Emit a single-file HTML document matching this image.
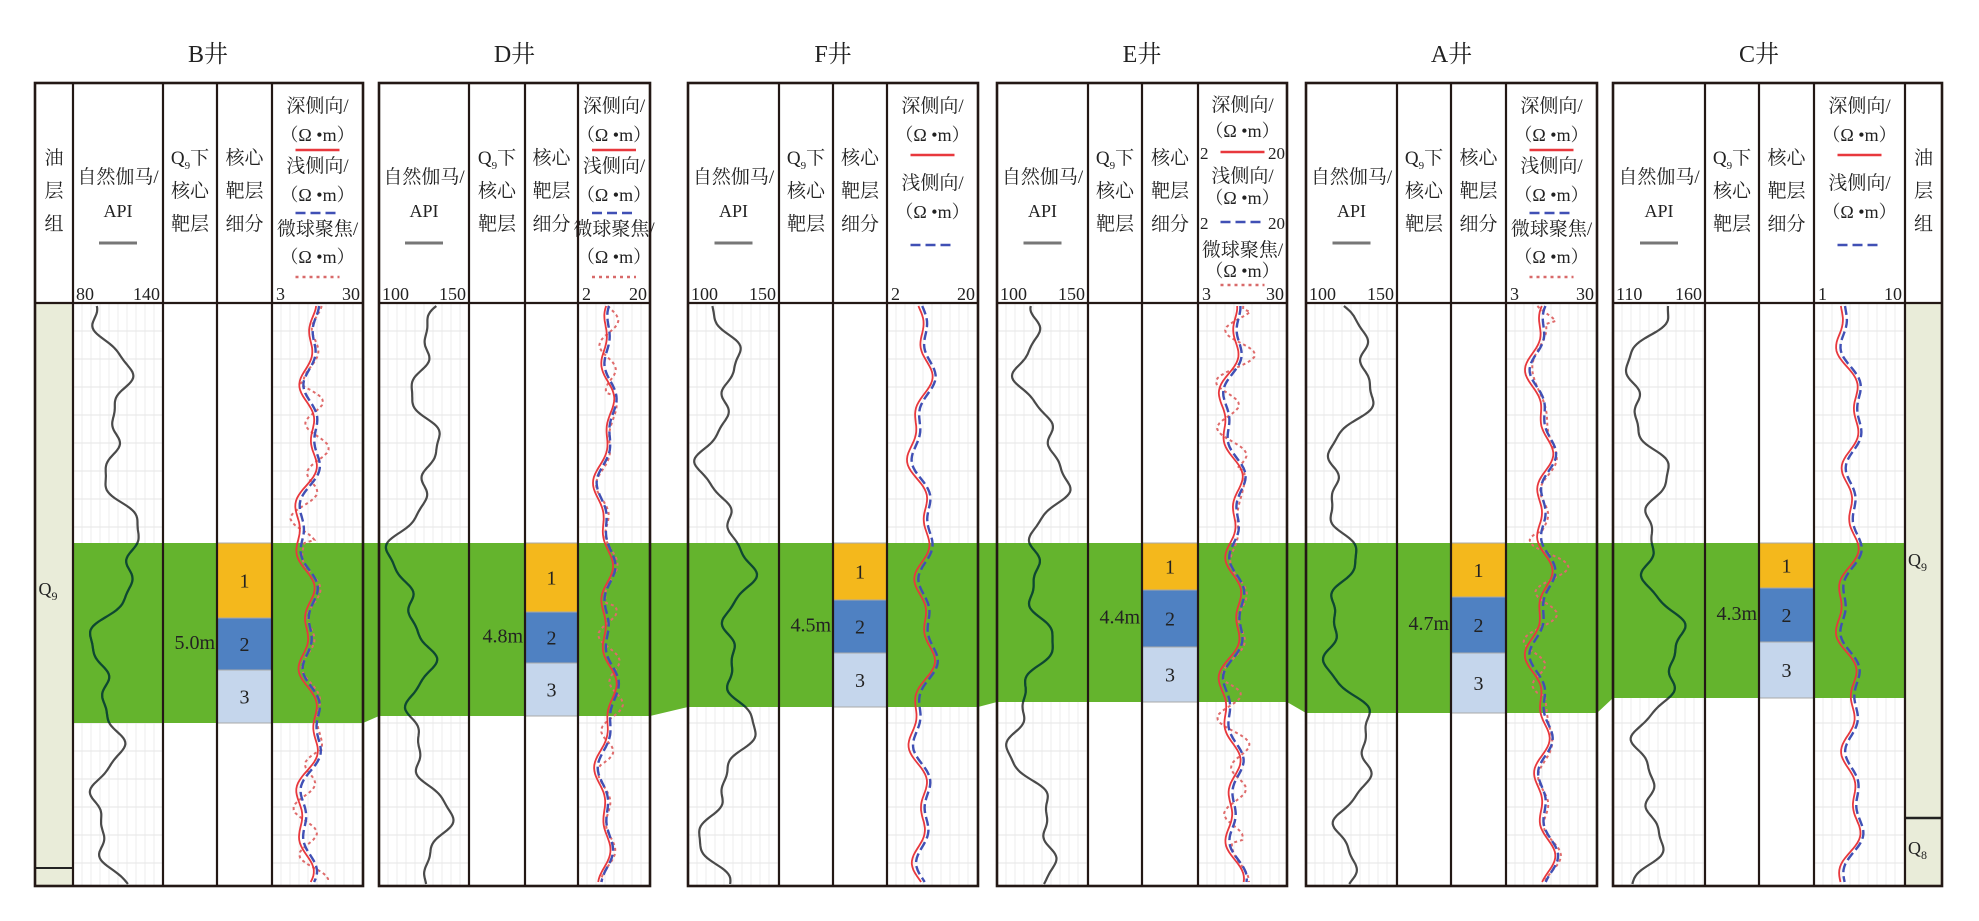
<!DOCTYPE html>
<html><head><meta charset="utf-8"><style>
html,body{margin:0;padding:0;background:#fff;}
svg{display:block;}
text{font-family:"Liberation Serif","Noto Serif CJK SC",serif;fill:#222;}
</style></head><body>
<svg id="s" width="1979" height="921" xmlns="http://www.w3.org/2000/svg"></svg>
<script>
(function(){
const T=83,D=303,B=886,BT=543;
const P=[
{n:'B井',c:[35,73,163,217,272,363],oil:'L',gr:'80|140',rs:'3|30',k:3,bb:723,box:[543,618,670,723],th:'5.0m'},
{n:'D井',c:[379,469,525,578,650],gr:'100|150',rs:'2|20',k:3,bb:716,box:[543,612,663,716],th:'4.8m'},
{n:'F井',c:[688,779,833,887,978],gr:'100|150',rs:'2|20',k:2,bb:707,box:[543,600,653,707],th:'4.5m'},
{n:'E井',c:[997,1088,1142,1198,1287],gr:'100|150',rs:'3|30',k:'E',bb:702,box:[543,590,647,702],th:'4.4m'},
{n:'A井',c:[1306,1397,1451,1506,1597],gr:'100|150',rs:'3|30',k:3,bb:713,box:[543,597,653,713],th:'4.7m'},
{n:'C井',c:[1613,1705,1759,1814,1905,1942],oil:'R',gr:'110|160',rs:'1|10',k:2,bb:698,box:[543,588,642,698],th:'4.3m'}
];
let h='';
function t(x,y,s,sz,anc){return '<text x="'+x+'" y="'+y+'" font-size="'+(sz||18)+'" text-anchor="'+(anc||'middle')+'">'+s+'</text>';}
function nz(s,y){return Math.sin(y*0.035+s)*0.5+Math.sin(y*0.083+s*2.3)*0.28+Math.sin(y*0.014+s*0.7)*0.4+Math.sin(y*0.19+s*5.1)*0.08;}
let bot=[];
P.forEach(function(p,i){const g=p.oil=='L'?p.c[1]:p.c[0];const r=p.oil=='R'?p.c[4]:p.c[p.c.length-1];
 bot.push([g,p.bb],[r,p.bb]);});
const poly='73,'+BT+' 1905,'+BT+' '+bot.slice().reverse().map(function(a){return a.join(',');}).join(' ');
h+='<defs><clipPath id="band"><polygon points="'+poly+'"/></clipPath></defs>';
P.forEach(function(p,i){
 const gi=p.oil=='L'?1:0; const g0=p.c[gi],g1=p.c[gi+1]; const r0=p.c[gi+3],r1=p.c[gi+4];
 [[g0,g1],[r0,r1]].forEach(function(ab){const a=ab[0],b=ab[1];
  for(let x=a+9;x<b;x+=9)h+='<line x1="'+x+'" y1="'+D+'" x2="'+x+'" y2="'+B+'" stroke="#ececec" stroke-width="1"/>';
  for(let y=D+28;y<B;y+=28)h+='<line x1="'+a+'" y1="'+y+'" x2="'+b+'" y2="'+y+'" stroke="#e6e6e6" stroke-width="1"/>';
 });
});
h+='<polygon points="'+poly+'" fill="#64b42d"/>';
P.forEach(function(p,i){
 const c=p.c, gi=p.oil=='L'?1:0;
 const cx=(c[0]+c[c.length-1])/2;
 h+=t(p.oil=='L'?(c[1]+c[5])/2-10:p.oil=='R'?(c[0]+c[4])/2:cx,62,p.n,24);
 if(p.oil=='L'){h+='<rect x="'+c[0]+'" y="'+D+'" width="'+(c[1]-c[0])+'" height="'+(B-D)+'" fill="#e9ecd9"/>';
  h+='<line x1="'+c[0]+'" y1="868" x2="'+c[1]+'" y2="868" stroke="#222" stroke-width="2"/>';
  h+='<text x="'+((c[0]+c[1])/2-6)+'" y="595" font-size="18" text-anchor="middle">Q<tspan font-size="12" dy="5">9</tspan></text>';
  [['油',164],['层',197],['组',230]].forEach(function(a){h+=t((c[0]+c[1])/2,a[1],a[0],19);});}
 if(p.oil=='R'){const a=c[4],b=c[5];h+='<rect x="'+a+'" y="'+D+'" width="'+(b-a)+'" height="'+(B-D)+'" fill="#e9ecd9"/>';
  h+='<line x1="'+a+'" y1="818" x2="'+b+'" y2="818" stroke="#222" stroke-width="2.5"/>';
  h+='<text x="'+((a+b)/2-6)+'" y="566" font-size="18" text-anchor="middle">Q<tspan font-size="12" dy="5">9</tspan></text>';
  h+='<text x="'+((a+b)/2-6)+'" y="854" font-size="18" text-anchor="middle">Q<tspan font-size="12" dy="5">8</tspan></text>';
  [['油',164],['层',197],['组',230]].forEach(function(q){h+=t((a+b)/2,q[1],q[0],19);});}
 const g0=c[gi],g1=c[gi+1],q0=c[gi+1],q1=c[gi+2],k0=c[gi+2],k1=c[gi+3],r0=c[gi+3],r1=c[gi+4];
 const gm=(g0+g1)/2;
 h+=t(gm,183,'自然伽马/',19)+t(gm,217,'API',18);
 h+='<line x1="'+(gm-19)+'" y1="243" x2="'+(gm+19)+'" y2="243" stroke="#777" stroke-width="3"/>';
 const gs=p.gr.split('|');h+=t(g0+3,300,gs[0],18,'start')+t(g1-3,300,gs[1],18,'end');
 const qm=(q0+q1)/2;
 h+='<text x="'+qm+'" y="164" font-size="19" text-anchor="middle">Q<tspan font-size="11" dy="5">9</tspan><tspan dy="-5">下</tspan></text>';
 h+=t(qm,197,'核心',19)+t(qm,230,'靶层',19);
 const km=(k0+k1)/2;h+=t(km,164,'核心',19)+t(km,197,'靶层',19)+t(km,230,'细分',19);
 const rm=(r0+r1)/2, rs=p.rs.split('|');
 const red=function(y){return '<line x1="'+(rm-22)+'" y1="'+y+'" x2="'+(rm+22)+'" y2="'+y+'" stroke="#e8383d" stroke-width="2.5"/>';};
 const blu=function(y){return '<line x1="'+(rm-22)+'" y1="'+y+'" x2="'+(rm+22)+'" y2="'+y+'" stroke="#4050b5" stroke-width="2.5" stroke-dasharray="10,5"/>';};
 const dot=function(y){return '<line x1="'+(rm-22)+'" y1="'+y+'" x2="'+(rm+22)+'" y2="'+y+'" stroke="#d86a6a" stroke-width="2.5" stroke-dasharray="3,4"/>';};
 const om='（Ω •m）';
 if(p.k==3){h+=t(rm,112,'深侧向/',19)+t(rm,141,om,18)+red(150)+t(rm,172,'浅侧向/',19)+t(rm,201,om,18)+blu(213)+t(rm,235,'微球聚焦/',19)+t(rm,263,om,18)+dot(277);}
 else if(p.k==2){h+=t(rm,112,'深侧向/',19)+t(rm,141,om,18)+red(155)+t(rm,189,'浅侧向/',19)+t(rm,218,om,18)+blu(245);}
 else{h+=t(rm,111,'深侧向/',19)+t(rm,137,om,18)+red(152)+t(r0+2,159,'2',17,'start')+t(r1-2,159,'20',17,'end')
  +t(rm,182,'浅侧向/',19)+t(rm,204,om,18)+blu(222)+t(r0+2,229,'2',17,'start')+t(r1-2,229,'20',17,'end')
  +t(rm,256,'微球聚焦/',19)+t(rm,277,om,18)+dot(285);}
 h+=t(r0+4,300,rs[0],18,'start')+t(r1-3,300,rs[1],18,'end');
 const bx=p.box, cols=['#f4b81c','#4f81c2','#c5d6ec'];
 for(let j=0;j<3;j++){h+='<rect x="'+k0+'" y="'+bx[j]+'" width="'+(k1-k0)+'" height="'+(bx[j+1]-bx[j])+'" fill="'+cols[j]+'" stroke="#a9a9a9" stroke-width="1"/>';
  h+=t(km,(bx[j]+bx[j+1])/2+7,String(j+1),20);}
 h+=t(q1-2,(bx[1]+bx[2])/2+5,p.th,20,'end');
 let gp='';for(let y=D+3;y<=B-2;y+=2){const x=g0+(g1-g0)*(0.45+0.32*nz(i*3.1+1,y));gp+=(gp?'L':'M')+x.toFixed(1)+','+y;}
 h+='<path d="'+gp+'" fill="none" stroke="#4a4a4a" stroke-width="2.2"/>';
 h+='<path d="'+gp+'" fill="none" stroke="#0c4a30" stroke-width="2.2" clip-path="url(#band)"/>';
 const rw=r1-r0;
 const rc=function(off,amp,sp){let d='';for(let y=D+3;y<=B-2;y+=3){
   let v=0.38+off+amp*(Math.sin(y*0.045+i*1.7)*0.5+Math.sin(y*0.11+i*2)*0.3+Math.sin(y*0.02+i)*0.3);
   if(sp){v+=sp*Math.sin(y*0.13+i*4)*(Math.sin(y*0.017+i*2.5)>0.2?1:0.15);}
   d+=(d?'L':'M')+(r0+rw*v).toFixed(1)+','+y;}return d;};
 if(p.k!=2)h+='<path d="'+rc(0.05,0.15,0.14)+'" fill="none" stroke="#df6b6b" stroke-width="2" stroke-dasharray="3,3"/>';
 h+='<path d="'+rc(0.04,0.15,0)+'" fill="none" stroke="#4050b5" stroke-width="2.4" stroke-dasharray="9,4"/>';
 h+='<path d="'+rc(0,0.16,0)+'" fill="none" stroke="#e8383d" stroke-width="1.8"/>';
 for(let j=1;j<c.length-1;j++)h+='<line x1="'+c[j]+'" y1="'+T+'" x2="'+c[j]+'" y2="'+B+'" stroke="#231815" stroke-width="2.2"/>';
 h+='<line x1="'+c[0]+'" y1="'+D+'" x2="'+c[c.length-1]+'" y2="'+D+'" stroke="#231815" stroke-width="2.2"/>';
 h+='<rect x="'+c[0]+'" y="'+T+'" width="'+(c[c.length-1]-c[0])+'" height="'+(B-T)+'" fill="none" stroke="#231815" stroke-width="2.6"/>';
});
document.getElementById('s').innerHTML=h;
})();
</script>
</body></html>
